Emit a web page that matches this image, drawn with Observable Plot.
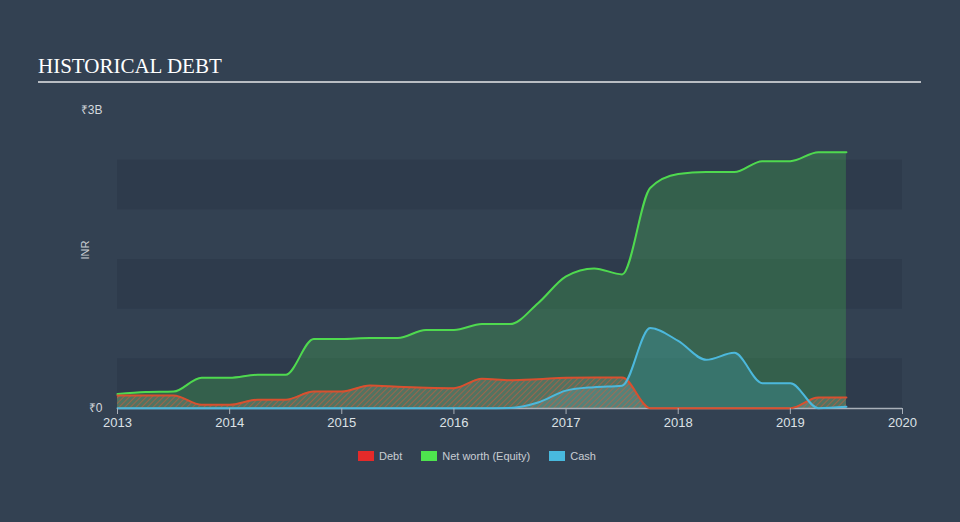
<!DOCTYPE html>
<html><head><meta charset="utf-8">
<script src="https://cdn.jsdelivr.net/npm/d3@7"></script>
<script src="https://cdn.jsdelivr.net/npm/@observablehq/plot@0.6"></script>
<style>
html,body{margin:0;padding:0;background:#334152;}
#wrap{position:relative;width:960px;height:522px;overflow:hidden;background:#334152;font-family:"Liberation Sans",Arial,sans-serif;}
#title{position:absolute;left:38px;top:56px;font-family:"Liberation Serif","Times New Roman",serif;font-size:21px;line-height:21px;color:#ffffff;white-space:nowrap;}
#rule{position:absolute;left:38px;top:81px;width:883px;height:2px;background:#b9bdc3;}
#chart{position:absolute;left:0;top:90px;}
#legend{position:absolute;left:358px;top:450px;display:flex;align-items:center;font-size:11px;color:#c9cdd2;line-height:12px;}
.sw{width:16px;height:10px;margin-right:5px;}
.item{display:flex;align-items:center;margin-right:19px;}
</style></head>
<body><div id="wrap">
<div id="title">HISTORICAL DEBT</div><div id="rule"></div>
<div id="chart"></div>
<div id="legend"></div>
</div>
<script>
// Quarterly observations (decimal years), values in billions of INR
const dates = [2013, 2013.25, 2013.5, 2013.75, 2014, 2014.25, 2014.5, 2014.75, 2015, 2015.25, 2015.5, 2015.75, 2016, 2016.25, 2016.5, 2016.75, 2017, 2017.25, 2017.5, 2017.75, 2018, 2018.25, 2018.5, 2018.75, 2019, 2019.25, 2019.5];
const debt = [0.13, 0.13, 0.13, 0.037, 0.037, 0.088, 0.088, 0.17, 0.17, 0.232, 0.22, 0.21, 0.205, 0.30, 0.285, 0.295, 0.31, 0.313, 0.313, 0.003, 0.003, 0.003, 0.003, 0.003, 0.003, 0.11, 0.11];
const equity = [0.145, 0.165, 0.17, 0.31, 0.31, 0.34, 0.34, 0.70, 0.70, 0.71, 0.71, 0.79, 0.79, 0.85, 0.85, 1.06, 1.33, 1.41, 1.35, 2.22, 2.36, 2.38, 2.38, 2.49, 2.49, 2.58, 2.58];
const cash = [0.003, 0.003, 0.003, 0.003, 0.003, 0.003, 0.003, 0.003, 0.003, 0.003, 0.003, 0.003, 0.003, 0.003, 0.005, 0.06, 0.18, 0.215, 0.23, 0.81, 0.68, 0.49, 0.56, 0.255, 0.255, 0.003, 0.017];

const seriesNames = ["Debt", "Net worth (Equity)", "Cash"];
const seriesColors = ["#e42a2a", "#4ee44e", "#48b9de"];
const xDomain = [2013, 2020];
const xTicks = [2013, 2014, 2015, 2016, 2017, 2018, 2019, 2020];
const yDomain = [0, 3];
const yTicks = [0, 3];
const bandStarts = [0, 1, 2];
const bandEnds = [0.5, 1.5, 2.5];

const rows = dates.map((t, i) => ({t, debt: debt[i], equity: equity[i], cash: cash[i]}));
const bands = bandStarts.map((s, i) => ({y1: s, y2: bandEnds[i]}));
const curve = "monotone-x";

const chart = Plot.plot({
  width: 960, height: 350,
  marginLeft: 117, marginRight: 58, marginTop: 20, marginBottom: 32,
  style: {background: "transparent", color: "#d4d8dd", fontFamily: "'Liberation Sans', Arial, sans-serif", fontSize: "13px", overflow: "visible"},
  x: {domain: xDomain},
  y: {domain: yDomain},
  marks: [
    Plot.rect(bands, {x1: () => xDomain[0], x2: () => xDomain[1], y1: "y1", y2: "y2", fill: "#2e3b4c"}),
    Plot.areaY(rows, {x: "t", y: "equity", fill: "#4ee44e", fillOpacity: 0.22, curve}),
    Plot.areaY(rows, {x: "t", y: "cash", fill: "#48b9de", fillOpacity: 0.22, curve}),
    Plot.areaY(rows, {x: "t", y: "debt", fill: "url(#debtHatch)", curve}),
    Plot.ruleY([0], {stroke: "#a9b0b9", strokeWidth: 1.5}),
    Plot.lineY(rows, {x: "t", y: "equity", stroke: "#4fd94f", strokeWidth: 2, curve}),
    Plot.lineY(rows, {x: "t", y: "debt", stroke: "#d9502f", strokeWidth: 2, curve}),
    Plot.lineY(rows, {x: "t", y: "cash", stroke: "#4cb8dc", strokeWidth: 2, curve}),
    Plot.axisX({ticks: xTicks, tickFormat: d => `${d}`, tickSize: 6, tickPadding: 3, label: null, stroke: "#a9b0b9", fill: "#dde1e6", fontSize: 13}),
    Plot.axisY({ticks: yTicks, tickFormat: d => d === 0 ? "₹0" : `₹${d}B`, tickSize: 0, tickPadding: 15, label: null, fill: "#d4d8dd", fontSize: 12}),
    Plot.text(["INR"], {frameAnchor: "left", dx: -32, rotate: -90, fill: "#c9cdd2", fontSize: 11})
  ]
});

// hatch pattern for the debt area
const ns = "http://www.w3.org/2000/svg";
const defs = document.createElementNS(ns, "defs");
defs.innerHTML = `<pattern id="debtHatch" patternUnits="userSpaceOnUse" width="4" height="4" patternTransform="rotate(45)">
  <rect width="4" height="4" fill="rgba(170,170,160,0.25)"></rect>
  <line x1="0" y1="0" x2="0" y2="4" stroke="rgba(215,90,55,0.7)" stroke-width="1.6"></line>
</pattern>`;
chart.insertBefore(defs, chart.firstChild);
document.getElementById("chart").appendChild(chart);

const legend = document.getElementById("legend");
seriesNames.forEach((name, i) => {
  const item = document.createElement("div");
  item.className = "item";
  const sw = document.createElement("div");
  sw.className = "sw";
  sw.style.background = seriesColors[i];
  const label = document.createElement("span");
  label.textContent = name;
  item.appendChild(sw); item.appendChild(label);
  legend.appendChild(item);
});
</script>
</body></html>
